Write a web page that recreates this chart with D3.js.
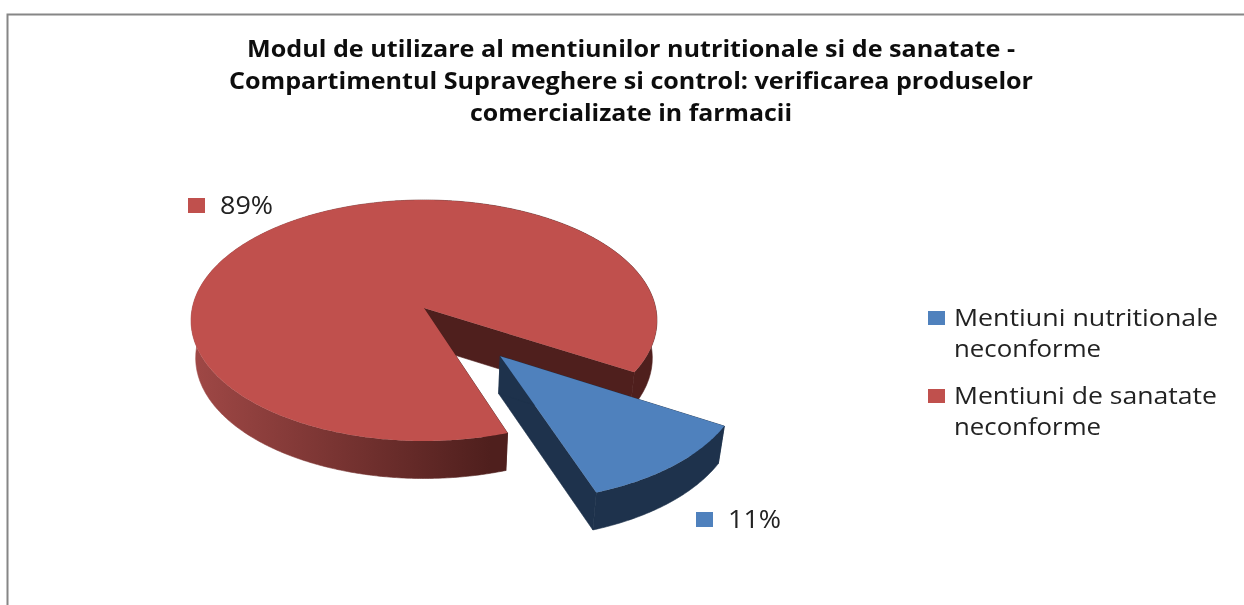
<!DOCTYPE html>
<html>
<head>
<meta charset="utf-8">
<script src="https://cdn.jsdelivr.net/npm/d3@7"></script>
<style>
  html, body { margin: 0; padding: 0; background: #fff; overflow: hidden; }
  text { font-family: "Open Sans", sans-serif; filter: url(#soft); }
</style>
</head>
<body>
<div id="chart"></div>
<script>
const categories = ['Mentiuni nutritionale neconforme', 'Mentiuni de sanatate neconforme'];
const values = [11.2, 88.8];
const dataLabels = ['11%', '89%'];
const titleLines = [
  'Modul de utilizare al mentiunilor nutritionale si de sanatate -',
  'Compartimentul Supraveghere si control: verificarea produselor',
  'comercializate in farmacii'
];
const legendLines = [['Mentiuni nutritionale', 'neconforme'], ['Mentiuni de sanatate', 'neconforme']];

const fills = ['#4f81bd', '#c0504d'];
const sideFills = ['#1e324c', 'url(#redSide)'];
const innerFills = ['#1e324c', '#4f1f1d'];

let config = {
  width: 1244,
  height: 605,
  cx: 424,
  cy: 308,
  rx: 231.7,
  ry: 119.2,
  perspective: 0.1037,
  depth: 37.5,
  bottomScale: 0.98,
  explode: [0.5, 0]
};

let svg = d3.select('#chart')
  .append('svg')
  .attr('width', config.width)
  .attr('height', config.height);

let defs = svg.append('defs');

// shading on the outer wall of the big slice
let grad = defs.append('linearGradient')
  .attr('id', 'redSide')
  .attr('gradientUnits', 'userSpaceOnUse')
  .attr('x1', 191).attr('x2', 490)
  .attr('y1', 0).attr('y2', 0);
grad.append('stop').attr('offset', 0).attr('stop-color', '#a04846');
grad.append('stop').attr('offset', 1).attr('stop-color', '#4f1f1d');

// the source image is a bit soft, text especially
defs.append('filter')
  .attr('id', 'soft')
  .append('feGaussianBlur')
  .attr('stdDeviation', 0.45);

// frame, only top and left are in the picture
svg.append('path')
  .attr('d', `M7.5,${config.height} V14.5 H${config.width}`)
  .attr('fill', 'none')
  .attr('stroke', '#868686')
  .attr('stroke-width', 2);

let pie = d3.pie()
  .sort(null)
  .startAngle(120.7 * Math.PI / 180)
  .endAngle((120.7 + 360) * Math.PI / 180);

let arcs = pie(values);

// tilted disc -> screen, the far half comes out shorter than the near half
function project(u, v, bottom) {
  let w = 1 - config.perspective * v;
  let x = config.rx * u / w;
  let y = config.ry * v / w;
  if (bottom) {
    return [config.cx + x * config.bottomScale, config.cy + y + config.depth];
  }
  return [config.cx + x, config.cy + y];
}

function slicePoint(angle, r, d, bottom) {
  let mid = (d.startAngle + d.endAngle) / 2;
  let e = config.explode[d.index];
  return project(e * Math.sin(mid) + r * Math.sin(angle), -e * Math.cos(mid) - r * Math.cos(angle), bottom);
}

function rimAngles(d) {
  let n = Math.ceil((d.endAngle - d.startAngle) / 0.01);
  return d3.range(n + 1).map((i) => d.startAngle + (d.endAngle - d.startAngle) * i / n);
}

let line = d3.line();

function topPath(d) {
  let pts = [slicePoint(0, 0, d, false)];
  rimAngles(d).forEach((a) => pts.push(slicePoint(a, 1, d, false)));
  return line(pts) + 'Z';
}

function rimPath(d) {
  let angles = rimAngles(d);
  let pts = angles.map((a) => slicePoint(a, 1, d, false));
  angles.slice().reverse().forEach((a) => pts.push(slicePoint(a, 1, d, true)));
  return line(pts) + 'Z';
}

function cutPath(d, angle) {
  return line([
    slicePoint(0, 0, d, false),
    slicePoint(angle, 1, d, false),
    slicePoint(angle, 1, d, true),
    slicePoint(0, 0, d, true)
  ]) + 'Z';
}

// big slice first, the pulled out slice sits in front of it
let order = [arcs[1], arcs[0]];

let slices = svg.selectAll('.slice')
  .data(order)
  .enter()
  .append('g')
  .attr('class', 'slice');

slices.append('path')
  .attr('d', (d) => cutPath(d, d.endAngle))
  .attr('fill', (d) => innerFills[d.index])
  .attr('stroke', (d) => innerFills[d.index])
  .attr('stroke-width', 0.6);
slices.append('path')
  .attr('d', (d) => cutPath(d, d.startAngle))
  .attr('fill', (d) => innerFills[d.index])
  .attr('stroke', (d) => innerFills[d.index])
  .attr('stroke-width', 0.6);
slices.append('path')
  .attr('d', rimPath)
  .attr('fill', (d) => sideFills[d.index])
  .attr('stroke', (d) => sideFills[d.index])
  .attr('stroke-width', 0.6);
slices.append('path')
  .attr('d', topPath)
  .attr('fill', (d) => fills[d.index]);

// title, stretched a little like the source image
let titleWidths = [768, 804, 322];
svg.selectAll('.title')
  .data(titleLines)
  .enter()
  .append('text')
  .attr('class', 'title')
  .attr('x', 631)
  .attr('y', (d, i) => 57 + i * 32)
  .attr('text-anchor', 'middle')
  .attr('textLength', (d, i) => titleWidths[i])
  .attr('lengthAdjust', 'spacingAndGlyphs')
  .attr('font-size', 24)
  .attr('font-weight', 700)
  .attr('fill', '#111')
  .text((d) => d);

// data labels
let labelPos = [[696, 528], [188, 214]];
let labels = svg.selectAll('.dataLabel')
  .data(dataLabels)
  .enter()
  .append('g')
  .attr('class', 'dataLabel');
labels.append('rect')
  .attr('x', (d, i) => labelPos[i][0])
  .attr('y', (d, i) => labelPos[i][1] - 16)
  .attr('width', 17)
  .attr('height', 15)
  .attr('fill', (d, i) => fills[i]);
labels.append('text')
  .attr('x', (d, i) => labelPos[i][0] + 32)
  .attr('y', (d, i) => labelPos[i][1])
  .attr('textLength', 53)
  .attr('lengthAdjust', 'spacingAndGlyphs')
  .attr('font-size', 25)
  .attr('fill', '#222')
  .text((d) => d);

// legend
let legendWidths = [[264, 147], [263, 147]];
let legendY = [326, 404];
let legend = svg.selectAll('.legendItem')
  .data(categories)
  .enter()
  .append('g')
  .attr('class', 'legendItem');
legend.append('rect')
  .attr('x', 928)
  .attr('y', (d, i) => legendY[i] - 15)
  .attr('width', 17)
  .attr('height', 14)
  .attr('fill', (d, i) => fills[i]);
legendLines.forEach((lines, i) => {
  lines.forEach((txt, j) => {
    svg.append('text')
      .attr('x', 954)
      .attr('y', legendY[i] + j * 31)
      .attr('textLength', legendWidths[i][j])
      .attr('lengthAdjust', 'spacingAndGlyphs')
      .attr('font-size', 24)
      .attr('fill', '#222')
      .text(txt);
  });
});
</script>
</body>
</html>
